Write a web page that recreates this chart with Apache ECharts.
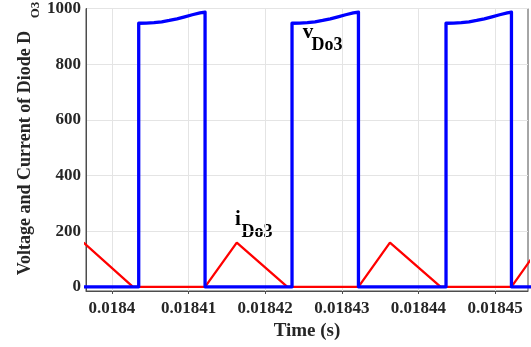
<!DOCTYPE html>
<html>
<head>
<meta charset="utf-8">
<script src="https://cdn.jsdelivr.net/npm/echarts@6/dist/echarts.min.js"></script>
<style>
  html, body { margin: 0; padding: 0; background: #ffffff; }
  #chart { width: 531px; height: 347px; }
</style>
</head>
<body>
<div id="chart"></div>
<script>
// Axis ranges and tick labels
const xRange = [0.01839661, 0.0184543];
const yRange = [-15, 1000];
const xTickLabels = ['0.0184', '0.01841', '0.01842', '0.01843', '0.01844', '0.01845'];
const yTickLabels = ['0', '200', '400', '600', '800', '1000'];

// Diode voltage v_Do3 (V): three blocking intervals
const vTime = [
  0.018396, 0.01840349,
  0.01840349, 0.01840449, 0.01840549, 0.01840649, 0.01840749, 0.01840849, 0.01840949, 0.01841049, 0.01841149, 0.01841215,
  0.01841215, 0.0184235,
  0.0184235, 0.0184245, 0.0184255, 0.0184265, 0.0184275, 0.0184285, 0.0184295, 0.0184305, 0.0184315, 0.01843217,
  0.01843217, 0.0184436,
  0.0184436, 0.0184446, 0.0184456, 0.0184466, 0.0184476, 0.0184486, 0.0184496, 0.0184506, 0.0184516, 0.01845214,
  0.01845214, 0.018455
];
const vVolt = [
  0, 0,
  947, 947.5, 949, 952, 957, 963, 970, 977.5, 984, 987,
  0, 0,
  947, 947.5, 949, 952, 957, 963, 970, 977.5, 984, 987,
  0, 0,
  947, 947.5, 949, 952, 957, 963, 970, 977.5, 984, 987,
  0, 0
];

// Diode current i_Do3 (A)
const iTime = [
  0.01839629, 0.01840274, 0.01841215, 0.01841629, 0.01842289,
  0.01843217, 0.01843628, 0.0184429, 0.01845214, 0.01845623
];
const iCurr = [159, 0, 0, 159, 0, 0, 159, 0, 0, 159];

const xTickValues = xTickLabels.map(Number);
const yTickValues = yTickLabels.map(Number);
const pair = (xs, ys) => xs.map((x, k) => [x, ys[k]]);
const nearestLabel = (values, labels) => function (v) {
  let best = 0;
  values.forEach((t, k) => { if (Math.abs(t - v) < Math.abs(values[best] - v)) best = k; });
  return labels[best];
};

const FONT = '"Liberation Serif", "Times New Roman", serif';
const INK = '#262626';
const AXIS = '#4d4d4d';
const GRIDLINE = '#e4e4e4';

const chart = echarts.init(document.getElementById('chart'), null, { renderer: 'canvas' });

chart.setOption({
  animation: false,
  backgroundColor: '#ffffff',
  grid: {
    left: 86, right: 3, top: 5, bottom: 56,
    show: true, borderColor: AXIS, borderWidth: 1, backgroundColor: 'transparent'
  },
  xAxis: {
    type: 'value',
    min: xRange[0], max: xRange[1],
    name: 'Time (s)',
    nameLocation: 'middle',
    nameGap: 30,
    nameTextStyle: { fontFamily: FONT, fontWeight: 'bold', fontSize: 19, color: INK },
    axisLine: { show: true, onZero: false, lineStyle: { color: AXIS, width: 1 } },
    axisTick: { show: true, inside: false, length: 3, customValues: xTickValues, lineStyle: { color: AXIS } },
    axisLabel: {
      customValues: xTickValues,
      margin: 9,
      fontFamily: FONT, fontWeight: 'bold', fontSize: 17, color: INK,
      formatter: nearestLabel(xTickValues, xTickLabels)
    },
    splitLine: { show: true, lineStyle: { color: GRIDLINE, width: 1 } }
  },
  yAxis: {
    type: 'value',
    min: yRange[0], max: yRange[1],
    axisLine: { show: true, onZero: false, lineStyle: { color: AXIS, width: 1 } },
    axisTick: { show: false, customValues: yTickValues },
    axisLabel: {
      customValues: yTickValues,
      margin: 5,
      fontFamily: FONT, fontWeight: 'bold', fontSize: 17, color: INK,
      formatter: nearestLabel(yTickValues, yTickLabels)
    },
    splitLine: { show: true, lineStyle: { color: GRIDLINE, width: 1 } }
  },
  series: [
    {
      name: 'iDo3', type: 'line', data: pair(iTime, iCurr),
      showSymbol: false, clip: true, z: 2,
      lineStyle: { color: '#ff0000', width: 2.3 }
    },
    {
      name: 'vDo3', type: 'line', data: pair(vTime, vVolt),
      showSymbol: false, clip: true, z: 3,
      lineStyle: { color: '#0000ff', width: 3.3, join: 'round' }
    }
  ],
  graphic: [
    // y-axis title with subscript
    {
      type: 'text', x: 25, y: 153, rotation: Math.PI / 2,
      style: { text: 'Voltage and Current of Diode D', font: 'bold 18px ' + FONT, fill: INK, align: 'center', verticalAlign: 'middle' }
    },
    {
      type: 'text', x: 36, y: 10, rotation: Math.PI / 2,
      style: { text: 'O3', font: 'bold 13px ' + FONT, fill: INK, align: 'center', verticalAlign: 'middle' }
    },
    // v_Do3 annotation
    {
      type: 'text', x: 308, y: 33,
      style: { text: 'v', font: 'bold 21px ' + FONT, fill: '#000000', align: 'center', verticalAlign: 'middle' }
    },
    {
      type: 'text', x: 327, y: 45,
      style: { text: 'Do3', font: 'bold 18px ' + FONT, fill: '#000000', align: 'center', verticalAlign: 'middle' }
    },
    // i_Do3 annotation
    {
      type: 'text', x: 238, y: 220,
      style: { text: 'i', font: 'bold 21px ' + FONT, fill: '#000000', align: 'center', verticalAlign: 'middle' }
    },
    {
      type: 'text', x: 257, y: 232,
      style: { text: 'Do3', font: 'bold 18px ' + FONT, fill: '#000000', align: 'center', verticalAlign: 'middle' }
    }
  ]
});
</script>
</body>
</html>
